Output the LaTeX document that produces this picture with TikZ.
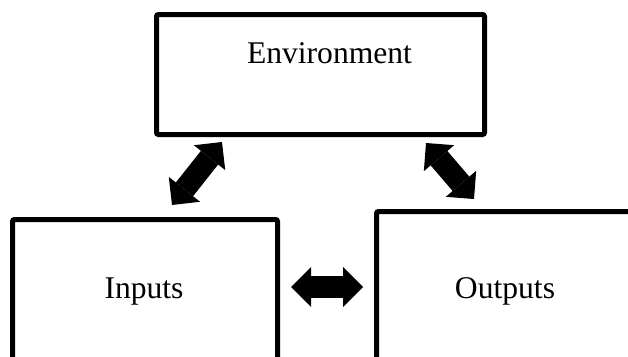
\documentclass[tikz,border=0pt]{standalone}
\usepackage{fontspec}
\setmainfont{Liberation Serif}
\usetikzlibrary{arrows.meta}
\begin{document}
\begin{tikzpicture}[x=1pt,y=-1pt,
  boxnode/.style={draw=black,line width=5pt,rounded corners=2pt,inner sep=0pt,fill=none},
  labeltext/.style={font=\fontsize{31.6}{38}\selectfont,anchor=base,inner sep=0pt},
  bigarrow/.style={line width=22pt,draw=black,
    {Triangle[length=20pt,width=40pt,line width=0pt]}-{Triangle[length=20pt,width=40pt,line width=0pt]}}]
\useasboundingbox (0,0) rectangle (628,356);
\clip (0,0) rectangle (628,356);
\fill[white] (0,0) rectangle (628,356);
% boxes
\node[boxnode,minimum width=328pt,minimum height=120pt] (env) at (320.5,74.5) {};
\node[boxnode,minimum width=265pt,minimum height=210pt] (inp) at (145,324.5) {};
\node[boxnode,minimum width=330pt,minimum height=220pt] (out) at (541.5,321.5) {};
% labels
\node[labeltext] (envt) at (329.5,63) {Environment};
\node[labeltext] (inpt) at (144,298) {Inputs};
\node[labeltext] (outt) at (505,298) {Outputs};
% connector ends
\coordinate (a1) at (172,205);
\coordinate (a2) at (222,142);
\coordinate (b1) at (426,143);
\coordinate (b2) at (474,199);
\coordinate (c1) at (291,287);
\coordinate (c2) at (363,287);
\draw[bigarrow] (a1) -- (a2);
\draw[bigarrow] (b1) -- (b2);
\draw[bigarrow] (c1) -- (c2);
\end{tikzpicture}
\end{document}
